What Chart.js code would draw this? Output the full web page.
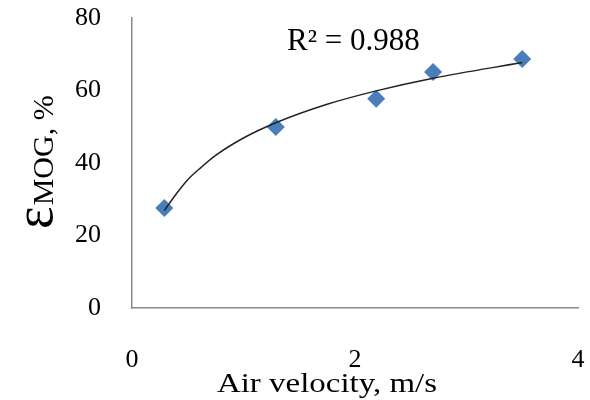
<!DOCTYPE html>
<html>
<head>
<meta charset="utf-8">
<script src="https://cdn.jsdelivr.net/npm/chart.js@4.4.1/dist/chart.umd.min.js"></script>
<style>
  html, body { margin: 0; padding: 0; background: #fff; }
  #wrap { width: 590px; height: 400px; }
</style>
</head>
<body>
<div id="wrap"><canvas id="mogChart" width="590" height="400"></canvas></div>
<script>
// measured points (air velocity m/s, MOG efficiency %)
const airVelocity = [0.29, 1.29, 2.19, 2.70, 3.50];
const mogEff = [27.6, 49.9, 57.7, 65.1, 68.7];

// trendline
const trendX = [0.29, 0.4, 0.5, 0.62, 0.75, 1.0, 1.29, 1.75, 2.19, 2.70, 3.50];
const trendY = [26.9, 31.6, 35.4, 38.8, 42.1, 46.9, 51.1, 56.2, 59.9, 63.4, 67.7];

const xTicks = [0, 2, 4];
const yTicks = [0, 20, 40, 60, 80];
const r2Label = 'R\u00B2 = 0.988';
const xTitle = 'Air velocity, m/s';

const serif = "'Liberation Serif', 'Times New Roman', serif";

const pts = airVelocity.map((x, i) => ({ x: x, y: mogEff[i] }));
const trend = trendX.map((x, i) => ({ x: x, y: trendY[i] }));

// axis titles (epsilon with subscript, stretched x title) and R2 label
const extraText = {
    id: 'extraText',
    afterDraw(chart) {
        const c = chart.ctx;
        c.save();
        c.fillStyle = '#000';
        c.textBaseline = 'alphabetic';
        c.textAlign = 'left';
        c.font = '31px ' + serif;
        c.fillText(r2Label, 287, 50);

        c.save();
        c.translate(327, 392);
        c.scale(1.22, 1);
        c.textAlign = 'center';
        c.font = '27px ' + serif;
        c.fillText(xTitle, 0, 0);
        c.restore();

        c.translate(52, 229);
        c.rotate(-Math.PI / 2);
        c.font = '54px ' + serif;
        c.fillText('\u03B5', 0, 0);
        const w = c.measureText('\u03B5').width;
        c.font = '30px ' + serif;
        c.fillText('MOG, %', w + 1, 1);
        c.restore();
    }
};

function drawChart() {
    const ctx = document.getElementById('mogChart').getContext('2d');
    return new Chart(ctx, {
        type: 'scatter',
        data: {
            datasets: [{
                label: 'data',
                data: pts,
                pointStyle: 'rectRot',
                pointRadius: 9,
                pointBorderWidth: 0,
                backgroundColor: '#4A7EBB',
                borderColor: '#4A7EBB',
                order: 2
            }, {
                label: 'trend',
                type: 'line',
                data: trend,
                borderColor: '#222',
                borderWidth: 1.5,
                pointRadius: 0,
                fill: false,
                cubicInterpolationMode: 'monotone',
                order: 1
            }]
        },
        options: {
            responsive: false,
            animation: false,
            layout: { padding: { top: 18, right: 12, left: 0, bottom: 0 } },
            plugins: {
                legend: { display: false },
                tooltip: { enabled: false }
            },
            scales: {
                x: {
                    type: 'linear',
                    min: 0, max: 4,
                    afterBuildTicks: s => { s.ticks = xTicks.map(v => ({ value: v })); },
                    afterFit: s => { s.height = 92; s.paddingRight = 0; s.paddingLeft = 0; },
                    grid: { display: false, drawTicks: false },
                    border: { color: '#898989', width: 1.5 },
                    ticks: { font: { family: serif, size: 26 }, color: '#000', padding: 37, maxRotation: 0 }
                },
                y: {
                    min: 0, max: 80,
                    afterBuildTicks: s => { s.ticks = yTicks.map(v => ({ value: v })); },
                    afterFit: s => { s.width = 132; s.paddingTop = 0; s.paddingBottom = 0; },
                    grid: { display: false, drawTicks: false },
                    border: { color: '#898989', width: 1.5 },
                    ticks: { font: { family: serif, size: 26 }, color: '#000', padding: 31 }
                }
            }
        },
        plugins: [extraText]
    });
}

// make sure the serif face is ready before the canvas is painted
Promise.all([
    document.fonts.load('26px "Liberation Serif"'),
    document.fonts.load('54px "Liberation Serif"', '\u03B5')
]).catch(() => {}).then(drawChart);
</script>
</body>
</html>
